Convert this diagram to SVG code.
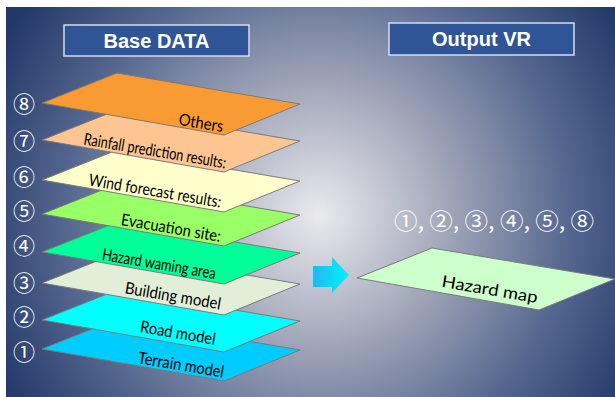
<svg xmlns="http://www.w3.org/2000/svg" xmlns:xlink="http://www.w3.org/1999/xlink" width="615" height="397" viewBox="0 0 615 397">
  <style>
    .title { font-family: "Liberation Sans", Arial, sans-serif; font-weight: bold; font-size: 20px; fill: #ffffff; text-anchor: middle; }
    .titlebox { fill: #2f5597; stroke: #d6dced; stroke-width: 1.5; }
    .num { font-family: "Noto Sans CJK JP", "DejaVu Sans", sans-serif; font-size: 22px; fill: #ffffff; text-anchor: middle; }
    .lbl { font-family: Lato, "Open Sans", sans-serif; font-size: 16.5px; fill: #000000; text-anchor: middle; }
    .sheet { stroke: #7a7a7a; stroke-width: 1; }
  </style>
  <defs>
    <radialGradient id="bg" gradientUnits="userSpaceOnUse" cx="318" cy="215" r="360">
      <stop offset="0" stop-color="#eaeaee"/>
      <stop offset="0.35" stop-color="#a3a8ba"/>
      <stop offset="0.7" stop-color="#55678f"/>
      <stop offset="1" stop-color="#223868"/>
    </radialGradient>
    <linearGradient id="arrowFill" x1="0" y1="0" x2="1" y2="0">
      <stop offset="0" stop-color="#22b8ee"/>
      <stop offset="1" stop-color="#00f4ff"/>
    </linearGradient>
    <!-- one flat sheet in oblique view; origin at its left corner -->
    <path id="sheet" d="M0,0 L75,-30 L258,1 L182,32 Z"/>
  </defs>

  <!-- backdrop -->
  <rect x="6" y="7" width="609" height="390" fill="url(#bg)"/>

  <!-- headers -->
  <g id="header-base">
    <rect class="titlebox" x="64" y="25" width="185" height="31"/>
    <text class="title" x="156.5" y="48">Base DATA</text>
  </g>
  <g id="header-output">
    <rect class="titlebox" x="389" y="23" width="185" height="32"/>
    <text class="title" x="481.5" y="46" font-size="21">Output VR</text>
  </g>

  <!-- stacked data layers, bottom to top -->
  <g id="layer-1">
    <use xlink:href="#sheet" class="sheet" fill="#00ccff" transform="translate(42,349)"/>
    <text class="lbl" transform="translate(181,365) rotate(9.6)" y="5.5" textLength="87" lengthAdjust="spacingAndGlyphs">Terrain model</text>
    <text class="num" x="24" y="360">①</text>
  </g>
  <g id="layer-2">
    <use xlink:href="#sheet" class="sheet" fill="#00ffff" transform="translate(42,320)"/>
    <text class="lbl" transform="translate(178,333) rotate(9.6)" y="5.5" textLength="76" lengthAdjust="spacingAndGlyphs">Road model</text>
    <text class="num" x="24" y="325">②</text>
  </g>
  <g id="layer-3">
    <use xlink:href="#sheet" class="sheet" fill="#e2eed8" transform="translate(42,283)"/>
    <text class="lbl" transform="translate(173,296) rotate(9.6)" y="5.5" textLength="97" lengthAdjust="spacingAndGlyphs">Building model</text>
    <text class="num" x="24" y="291">③</text>
  </g>
  <g id="layer-4">
    <use xlink:href="#sheet" class="sheet" fill="#00ff99" transform="translate(42,252)"/>
    <text class="lbl" transform="translate(159,264) rotate(9.6)" y="5.5" textLength="115" lengthAdjust="spacingAndGlyphs">Hazard waming area</text>
    <text class="num" x="24" y="254">④</text>
  </g>
  <g id="layer-5">
    <use xlink:href="#sheet" class="sheet" fill="#99ff66" transform="translate(42,214)"/>
    <text class="lbl" transform="translate(171,228) rotate(9.6)" y="5.5" textLength="101" lengthAdjust="spacingAndGlyphs">Evacuation site:</text>
    <text class="num" x="24" y="219">⑤</text>
  </g>
  <g id="layer-6">
    <use xlink:href="#sheet" class="sheet" fill="#ffffcc" transform="translate(42,180)"/>
    <text class="lbl" transform="translate(155,191) rotate(9.6)" y="5.5" textLength="134" lengthAdjust="spacingAndGlyphs">Wind forecast results:</text>
    <text class="num" x="24" y="185">⑥</text>
  </g>
  <g id="layer-7">
    <use xlink:href="#sheet" class="sheet" fill="#fcc592" transform="translate(42,140)"/>
    <text class="lbl" transform="translate(155,151) rotate(9.6)" y="5.5" textLength="144" lengthAdjust="spacingAndGlyphs">Rainfall prediction results:</text>
    <text class="num" x="24" y="149">⑦</text>
  </g>
  <g id="layer-8">
    <use xlink:href="#sheet" class="sheet" fill="#f99a32" transform="translate(42,103)"/>
    <text class="lbl" transform="translate(201,123) rotate(9.6)" y="5.5" textLength="45" lengthAdjust="spacingAndGlyphs">Others</text>
    <text class="num" x="24" y="112">⑧</text>
  </g>

  <!-- transition arrow -->
  <g id="connectors">
    <polygon points="313,266 332,266 332,257 349,275 332,293 332,287 313,287" fill="url(#arrowFill)"/>
  </g>

  <!-- output -->
  <g id="output-sources">
    <text class="num" x="494" y="229" font-size="21" fill="#ececf2" textLength="200" lengthAdjust="spacingAndGlyphs">①, ②, ③, ④, ⑤, ⑧</text>
  </g>
  <g id="hazard-map">
    <use xlink:href="#sheet" class="sheet" fill="#ccffcc" transform="translate(357,278)"/>
    <text class="lbl" transform="translate(490,288) rotate(9.6)" y="7" font-size="21" textLength="97" lengthAdjust="spacingAndGlyphs">Hazard map</text>
  </g>
</svg>
